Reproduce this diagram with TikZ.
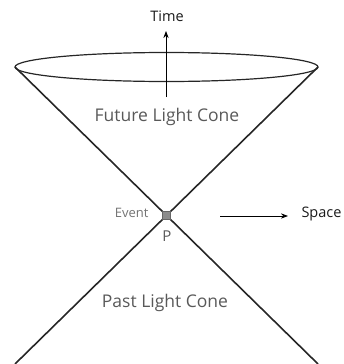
\documentclass[tikz,border=0pt]{standalone}
\usepackage{fontspec}
\setmainfont{Open Sans}
\usetikzlibrary{arrows.meta,positioning}

\begin{document}
\begin{tikzpicture}[x=1pt,y=-1pt,>=Stealth,
    cone/.style={line width=1.6pt,black!85},
    axis/.style={->,line width=0.9pt,black},
    conelabel/.style={text=black!65,font=\fontsize{17.5}{19}\selectfont},
    axislabel/.style={text=black!90,font=\fontsize{14.5}{16}\selectfont}]
  \useasboundingbox (0,0) rectangle (343,364);
  % cone edges
  \coordinate (tl) at (15,67);
  \coordinate (tr) at (318,67);
  \coordinate (bl) at (15,364);
  \coordinate (br) at (318,364);
  \draw[cone] (tl) -- (br);
  \draw[cone] (tr) -- (bl);
  \draw[line width=1.2pt,black!85] (166.5,67) ellipse[x radius=151.5,y radius=14.5];
  % event
  \node[draw=black!60,fill=black!45,minimum size=8pt,inner sep=0pt] (P) at (166.5,215.5) {};
  \node[text=black!55,font=\fontsize{13}{15}\selectfont,anchor=east] (event) at (152,213) {Event};
  \node[conelabel,font=\fontsize{15}{17}\selectfont] (plabel) at (167,236) {P};
  % axes
  \coordinate (tbase) at (166,97);
  \node[axislabel] (time) at (167,16) {Time};
  \draw[axis] (tbase) -- (166,31);
  \coordinate (sbase) at (220,216);
  \node[axislabel,anchor=west] (space) at (298,214) {Space};
  \draw[axis] (sbase) -- (288,216);
  % labels
  \node[conelabel] (future) at (167,117) {Future Light Cone};
  \node[conelabel] (past) at (165,303) {Past Light Cone};
\end{tikzpicture}
\end{document}
